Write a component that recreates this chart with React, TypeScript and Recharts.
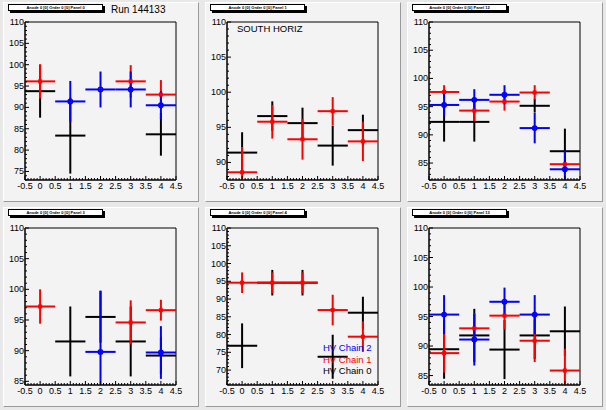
import React from 'react';
import { ComposedChart, Scatter, XAxis, YAxis, ErrorBar, ReferenceArea } from 'recharts';

// bin centres and the half-width drawn as x error
const bins = [0, 1, 2, 3, 4];
const binHalfWidth = 0.5;

const panelTitles = [
    'Anode 0 [0] Order 0 [0] Panel 0',
    'Anode 0 [0] Order 0 [0] Panel 1',
    'Anode 0 [0] Order 0 [0] Panel 12',
    'Anode 0 [0] Order 0 [0] Panel 3',
    'Anode 0 [0] Order 0 [0] Panel 4',
    'Anode 0 [0] Order 0 [0] Panel 13',
];
const yMins = [73, 87.5, 82, 84.4, 65.8, 83.4];
const yMax = 110;

// panel 0
const p0Chain0 = [93.8, 83.4, null, null, 83.7];
const p0Chain0Err = [6.2, 8.9, 0, 0, 5.0];
const p0Chain1 = [96.1, null, null, 96.1, 93.0];
const p0Chain1Err = [4.0, 0, 0, 3.8, 3.4];
const p0Chain2 = [null, 91.4, 94.2, 94.2, 90.5];
const p0Chain2Err = [0, 4.8, 4.2, 4.2, 3.3];

// panel 1
const p1Chain0 = [91.4, 96.6, 95.6, 92.4, 94.6];
const p1Chain0Err = [2.9, 2.1, 2.2, 2.85, 2.2];
const p1Chain1 = [88.6, 95.8, 93.3, 97.3, 93.0];
const p1Chain1Err = [3.6, 2.4, 2.9, 2.0, 2.8];
const p1Chain2 = [null, null, null, null, null];
const p1Chain2Err = [0, 0, 0, 0, 0];

// panel 2
const p2Chain0 = [92.3, 92.3, null, 95.15, 87.1];
const p2Chain0Err = [3.5, 3.5, 0, 1.2, 4.0];
const p2Chain1 = [97.6, 94.3, 95.9, 97.5, 84.8];
const p2Chain1Err = [1.2, 1.9, 1.6, 1.3, 0.6];
const p2Chain2 = [95.3, 96.2, 97.1, 91.2, 83.9];
const p2Chain2Err = [2.0, 1.9, 1.7, 2.7, 3.3];

// panel 3
const p3Chain0 = [null, 91.5, 95.5, 91.5, 89.2];
const p3Chain0Err = [0, 5.7, 4.2, 5.7, 3.0];
const p3Chain1 = [97.2, null, null, 94.6, 96.6];
const p3Chain1Err = [2.8, 0, 0, 3.6, 1.7];
const p3Chain2 = [null, null, 89.8, null, 89.7];
const p3Chain2Err = [0, 0, 10, 0, 4.3];

// panel 4
const p4Chain0 = [76.85, 94.6, 94.6, 73.75, 86.15];
const p4Chain0Err = [6.3, 3.6, 3.6, 6.2, 4.5];
const p4Chain1 = [94.6, 94.6, 94.6, 86.9, 79.4];
const p4Chain1Err = [2.9, 2.9, 2.9, 4.3, 4.3];
const p4Chain2 = [null, null, null, null, null];
const p4Chain2Err = [0, 0, 0, 0, 0];

// panel 5
const p5Chain0 = [89.46, 91.8, 89.4, 91.8, 92.5];
const p5Chain0Err = [5.0, 4.5, 5.0, 4.0, 4.2];
const p5Chain1 = [88.8, 93.0, 95.15, 90.9, 85.85];
const p5Chain1Err = [3.3, 2.6, 2.3, 3.6, 3.7];
const p5Chain2 = [95.33, 91.1, 97.5, 95.33, null];
const p5Chain2Err = [3.3, 4.4, 2.4, 3.3, 0];

const legendLabels = ['HV Chain 2', 'HV Chain 1', 'HV Chain 0'];

const chainColors = ['#000000', '#ff0000', '#0000ff'];
const font = '"Liberation Sans", Arial, Helvetica, sans-serif';

// error bars are cut at the frame, like ROOT does
const toPoints = (vals: (number | null)[], errs: number[], yMin: number) =>
    bins
        .map((x, i) => ({ x, y: vals[i], e: errs[i] }))
        .filter((p) => p.y !== null)
        .map((p) => {
            const y = p.y as number;
            return {
                x: p.x,
                y,
                ex: binHalfWidth,
                ey: [Math.min(p.e, y - yMin), Math.min(p.e, yMax - y)],
            };
        });

const panels = [
    [toPoints(p0Chain0, p0Chain0Err, yMins[0]), toPoints(p0Chain1, p0Chain1Err, yMins[0]), toPoints(p0Chain2, p0Chain2Err, yMins[0])],
    [toPoints(p1Chain0, p1Chain0Err, yMins[1]), toPoints(p1Chain1, p1Chain1Err, yMins[1]), toPoints(p1Chain2, p1Chain2Err, yMins[1])],
    [toPoints(p2Chain0, p2Chain0Err, yMins[2]), toPoints(p2Chain1, p2Chain1Err, yMins[2]), toPoints(p2Chain2, p2Chain2Err, yMins[2])],
    [toPoints(p3Chain0, p3Chain0Err, yMins[3]), toPoints(p3Chain1, p3Chain1Err, yMins[3]), toPoints(p3Chain2, p3Chain2Err, yMins[3])],
    [toPoints(p4Chain0, p4Chain0Err, yMins[4]), toPoints(p4Chain1, p4Chain1Err, yMins[4]), toPoints(p4Chain2, p4Chain2Err, yMins[4])],
    [toPoints(p5Chain0, p5Chain0Err, yMins[5]), toPoints(p5Chain1, p5Chain1Err, yMins[5]), toPoints(p5Chain2, p5Chain2Err, yMins[5])],
];

const xTicks = Array.from({ length: 51 }, (_, i) => (i - 5) / 10);

const XTick = (props: any) => {
    const { x, y, payload } = props;
    const v = payload.value;
    const major = Math.abs(v * 2 - Math.round(v * 2)) < 1e-6;
    return (
        <g>
            <line x1={x} x2={x} y1={y} y2={y - (major ? 4 : 2)} stroke="#000" />
            {major && (
                <text x={x} y={y + 9} textAnchor="middle" fontSize={9} fontFamily={font} fill="#000">
                    {String(Number(v.toFixed(1)))}
                </text>
            )}
        </g>
    );
};

const YTick = (props: any) => {
    const { x, y, payload } = props;
    const v = payload.value;
    const major = v % 5 === 0;
    return (
        <g>
            <line x1={x} x2={x + (major ? 4 : 2)} y1={y} y2={y} stroke="#000" />
            {major && (
                <text x={x - 1} y={y + 3} textAnchor="end" fontSize={9} fontFamily={font} fill="#000">
                    {v}
                </text>
            )}
        </g>
    );
};

const NoMark = () => <g />;
const RedSquare = (p: any) => <rect x={p.cx - 2} y={p.cy - 2} width={4} height={4} fill="#ff0000" />;
const BlueCircle = (p: any) => (
    <circle cx={p.cx} cy={p.cy} r={2.2} fill="none" stroke="#0000ff" strokeWidth={1.5} />
);
const shapes = [NoMark, RedSquare, BlueCircle];

const rowTop = [0, 203];
const rowMarginTop = [22, 25];
const rowPlotH = [158, 157];
const padTop = [2, 207];

const Panel = ({ index }: { index: number }) => {
    const col = index % 3;
    const row = Math.floor(index / 3);
    const yMin = yMins[index];
    const yTicks: number[] = [];
    for (let v = Math.ceil(yMin); v <= yMax; v++) yTicks.push(v);
    const chartH = rowMarginTop[row] + rowPlotH[row] + 25;
    return (
        <>
            <div
                style={{
                    position: 'absolute',
                    left: 3 + 202 * col,
                    top: padTop[row],
                    width: 194,
                    height: 198,
                    background: '#f3f3f3',
                    borderTop: '1px solid #ffffff',
                    borderLeft: '1px solid #ffffff',
                    borderRight: '1px solid #9a9a9a',
                    borderBottom: '1px solid #9a9a9a',
                }}
            />
            <div
                style={{
                    position: 'absolute',
                    left: 8 + 202 * col,
                    top: padTop[row] + 2,
                    width: 93,
                    height: 5,
                    background: '#fff',
                    border: '1px solid #000',
                    boxShadow: '2px 2px 0 #000',
                    fontFamily: font,
                    fontSize: 4,
                    fontWeight: 'bold',
                    lineHeight: '5px',
                    textAlign: 'center',
                    whiteSpace: 'nowrap',
                    overflow: 'hidden',
                }}
            >
                {panelTitles[index]}
            </div>
            <div style={{ position: 'absolute', left: 202 * col, top: rowTop[row] }}>
                <ComposedChart
                    width={202}
                    height={chartH}
                    margin={{ top: rowMarginTop[row], right: 26, bottom: 0, left: 0 }}
                >
                    <XAxis
                        dataKey="x"
                        type="number"
                        domain={[-0.5, 4.5]}
                        allowDataOverflow
                        ticks={xTicks}
                        interval={0}
                        tick={<XTick />}
                        tickLine={false}
                        tickSize={0}
                        tickMargin={0}
                        height={25}
                        axisLine={{ stroke: '#000' }}
                    />
                    <YAxis
                        type="number"
                        domain={[yMin, yMax]}
                        allowDataOverflow
                        ticks={yTicks}
                        interval={0}
                        tick={<YTick />}
                        tickLine={false}
                        tickSize={0}
                        tickMargin={0}
                        width={25}
                        axisLine={{ stroke: '#000' }}
                    />
                    <ReferenceArea
                        x1={-0.5}
                        x2={4.5}
                        y1={yMin}
                        y2={yMax}
                        fill="none"
                        fillOpacity={0}
                        stroke="#000"
                        strokeWidth={1}
                        ifOverflow="visible"
                    />
                    {panels[index].map((pts, s) => (
                        <Scatter
                            key={s}
                            data={pts}
                            dataKey="y"
                            shape={shapes[s]}
                            isAnimationActive={false}
                        >
                            <ErrorBar dataKey="ex" direction="x" width={0} stroke={chainColors[s]} strokeWidth={2} />
                            <ErrorBar dataKey="ey" direction="y" width={0} stroke={chainColors[s]} strokeWidth={2} />
                        </Scatter>
                    ))}
                </ComposedChart>
            </div>
        </>
    );
};

const App = () => {
    return (
        <div
            style={{
                position: 'absolute',
                left: 0,
                top: 0,
                width: 606,
                height: 410,
                background: '#e8e8e8',
                overflow: 'hidden',
            }}
        >
            {[0, 1, 2, 3, 4, 5].map((i) => (
                <Panel key={i} index={i} />
            ))}
            <div style={{ position: 'absolute', left: 111, top: 3, fontFamily: font, fontSize: 10, lineHeight: '14px' }}>
                Run 144133
            </div>
            <div style={{ position: 'absolute', left: 237, top: 23, fontFamily: font, fontSize: 9.5, lineHeight: '12px' }}>
                SOUTH HORIZ
            </div>
            {legendLabels.map((label, i) => (
                <div
                    key={label}
                    style={{
                        position: 'absolute',
                        left: 323,
                        top: 341 + i * 11.7,
                        fontFamily: font,
                        fontSize: 9.5,
                        lineHeight: '13px',
                        color: chainColors[2 - i],
                    }}
                >
                    {label}
                </div>
            ))}
        </div>
    );
};

export default App;
